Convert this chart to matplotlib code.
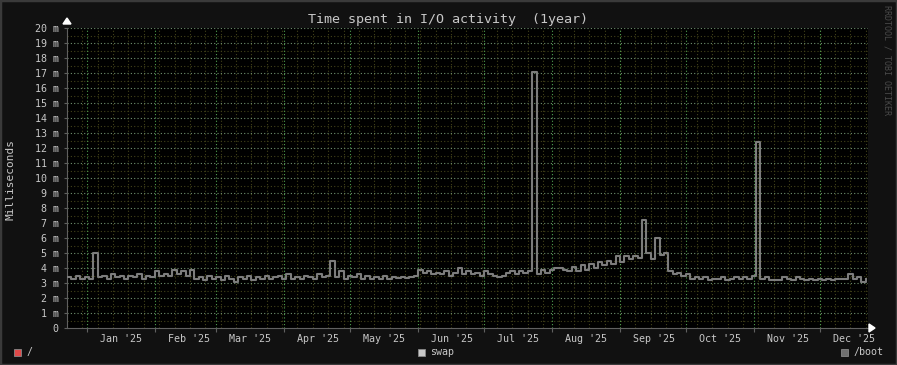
import datetime as dt
import numpy as np
import pandas as pd
import matplotlib
matplotlib.use("Agg")
import matplotlib.pyplot as plt
from matplotlib.patches import Rectangle, Polygon

# I/O time in milliseconds, one sample every 2 days from 23 Dec 2024
io_ms = [
    3.4, 3.3, 3.5, 3.3, 3.4, 3.3, 5.0, 3.4, 3.5, 3.3,
    3.6, 3.4, 3.5, 3.3, 3.5, 3.4, 3.6, 3.3, 3.5, 3.4,
    3.8, 3.5, 3.6, 3.5, 3.9, 3.6, 3.8, 3.5, 3.9, 3.3,
    3.4, 3.2, 3.5, 3.3, 3.4, 3.2, 3.5, 3.3, 3.1, 3.4,
    3.3, 3.5, 3.2, 3.4, 3.3, 3.5, 3.3, 3.4, 3.5, 3.3,
    3.6, 3.3, 3.4, 3.3, 3.5, 3.4, 3.3, 3.6, 3.4, 3.5,
    4.5, 3.4, 3.8, 3.3, 3.5, 3.4, 3.6, 3.3, 3.5, 3.3,
    3.4, 3.3, 3.5, 3.3, 3.4, 3.35, 3.4, 3.35, 3.4, 3.5,
    3.9, 3.7, 3.8, 3.6, 3.7, 3.6, 3.8, 3.5, 3.7, 4.0,
    3.6, 3.8, 3.6, 3.7, 3.5, 3.8, 3.6, 3.5, 3.4, 3.5,
    3.7, 3.8, 3.6, 3.8, 3.7, 3.8, 17.1, 3.6, 3.9, 3.7,
    3.9, 4.0, 4.0, 3.9, 3.8, 4.1, 3.8, 4.2, 3.9, 4.3,
    4.0, 4.4, 4.2, 4.5, 4.3, 4.8, 4.4, 4.8, 4.6, 4.8,
    4.7, 7.2, 5.0, 4.6, 6.0, 4.9, 5.0, 3.8, 3.6, 3.7,
    3.5, 3.6, 3.3, 3.4, 3.3, 3.4, 3.2, 3.3, 3.3, 3.4,
    3.2, 3.3, 3.4, 3.3, 3.4, 3.3, 3.5, 12.4, 3.3, 3.4,
    3.2, 3.2, 3.2, 3.4, 3.3, 3.2, 3.4, 3.3, 3.2, 3.3,
    3.2, 3.3, 3.2, 3.3, 3.2, 3.3, 3.3, 3.3, 3.6, 3.3,
    3.4, 3.1, 3.3,
]
legend_labels = ["/", "swap", "/boot"]
legend_colors = ["#e04a4a", "#c8c8c8", "#707070"]
months = ["Jan", "Feb", "Mar", "Apr", "May", "Jun",
          "Jul", "Aug", "Sep", "Oct", "Nov", "Dec"]

start = dt.datetime(2024, 12, 23)
end = start + dt.timedelta(days=365)
times = pd.date_range(start, periods=len(io_ms), freq="2D")

W, H = 897, 365
fig = plt.figure(figsize=(W / 100, H / 100), dpi=100)
fig.patch.set_facecolor("#111111")
fig.patches.append(Rectangle((0, 0), 1, 1, transform=fig.transFigure,
                             fill=False, edgecolor="#3a3a3a", lw=2.5))

left, right, top, bottom = 67, 868, 28, 328
ax = fig.add_axes([left / W, (H - bottom) / H, (right - left) / W, (bottom - top) / H])
ax.set_facecolor("#000000")
ax.set_xlim(start, end)
ax.set_ylim(0, 20)

txt = "#c8c8c8"
mono = "DejaVu Sans Mono"

# grid: minor every 0.5 m and weekly, major every 1 m and monthly
for v in np.arange(0.5, 20, 1.0):
    ax.axhline(v, color="#42421a", lw=0.8, ls=(0, (1, 2)), zorder=1)
week = dt.datetime(2024, 12, 23)
while week < end:
    ax.axvline(week, color="#42421a", lw=0.8, ls=(0, (1, 2)), zorder=1)
    week += dt.timedelta(days=7)
for v in range(1, 21):
    ax.axhline(v, color="#6f8f6f", lw=0.8, ls=(0, (1, 2)), zorder=1.5)
month_starts = [dt.datetime(2025, m, 1) for m in range(1, 13)]
for d in month_starts:
    ax.axvline(d, color="#4f9f4f", lw=0.8, ls=(0, (1, 2)), zorder=1.5)

ax.step(times, io_ms, where="post", color="#7c7c7c", lw=1.5, zorder=3)

# axes look
for s in ["top", "right"]:
    ax.spines[s].set_visible(False)
for s in ["left", "bottom"]:
    ax.spines[s].set_color("#606060")
    ax.spines[s].set_linewidth(0.8)

ax.set_yticks(range(0, 21))
ax.set_yticklabels(["0"] + [f"{v} m" for v in range(1, 21)],
                   fontfamily=mono, fontsize=7.2, color=txt)
ax.tick_params(axis="y", length=2, color="#606060", pad=4)

ax.set_xticks(month_starts)
ax.set_xticklabels([])
ax.tick_params(axis="x", which="major", length=3, color="#606060")
mids = [d + dt.timedelta(days=15.5) for d in month_starts]
ax.set_xticks(mids, minor=True)
ax.set_xticklabels([f"{m} '25" for m in months], minor=True,
                   fontfamily=mono, fontsize=7.2, color=txt)
ax.tick_params(axis="x", which="minor", length=0, pad=4)

# arrows at axis ends
fig.patches.append(Polygon([[(left - 4) / W, (H - 24) / H], [(left + 4) / W, (H - 24) / H],
                            [left / W, (H - 18) / H]], closed=True,
                           transform=fig.transFigure, color="white"))
fig.patches.append(Polygon([[(right + 1) / W, (H - bottom + 4) / H],
                            [(right + 1) / W, (H - bottom - 4) / H],
                            [(right + 7) / W, (H - bottom) / H]], closed=True,
                           transform=fig.transFigure, color="white"))

fig.text(448 / W, (H - 19) / H, "Time spent in I/O activity  (1year)",
         ha="center", va="center", fontfamily=mono, fontsize=9.6, color=txt)
fig.text(11 / W, (H - 179) / H, "Milliseconds", rotation=90,
         ha="center", va="center", fontfamily=mono, fontsize=8, color=txt)
fig.text(887 / W, (H - 60) / H, "RRDTOOL / TOBI OETIKER", rotation=270,
         ha="center", va="center", fontfamily=mono, fontsize=6, color="#4a4a4a")

# legend
for (lab, col, x) in zip(legend_labels, legend_colors, [14, 418, 841]):
    fig.patches.append(Rectangle((x / W, (H - 356) / H), 7 / W, 7 / H,
                                 transform=fig.transFigure, facecolor=col,
                                 edgecolor="#888888", lw=0.6))
    fig.text((x + 12) / W, (H - 352) / H, lab, ha="left", va="center",
             fontfamily=mono, fontsize=7.2, color=txt)

fig.savefig("out.png", dpi=100, facecolor=fig.get_facecolor())
